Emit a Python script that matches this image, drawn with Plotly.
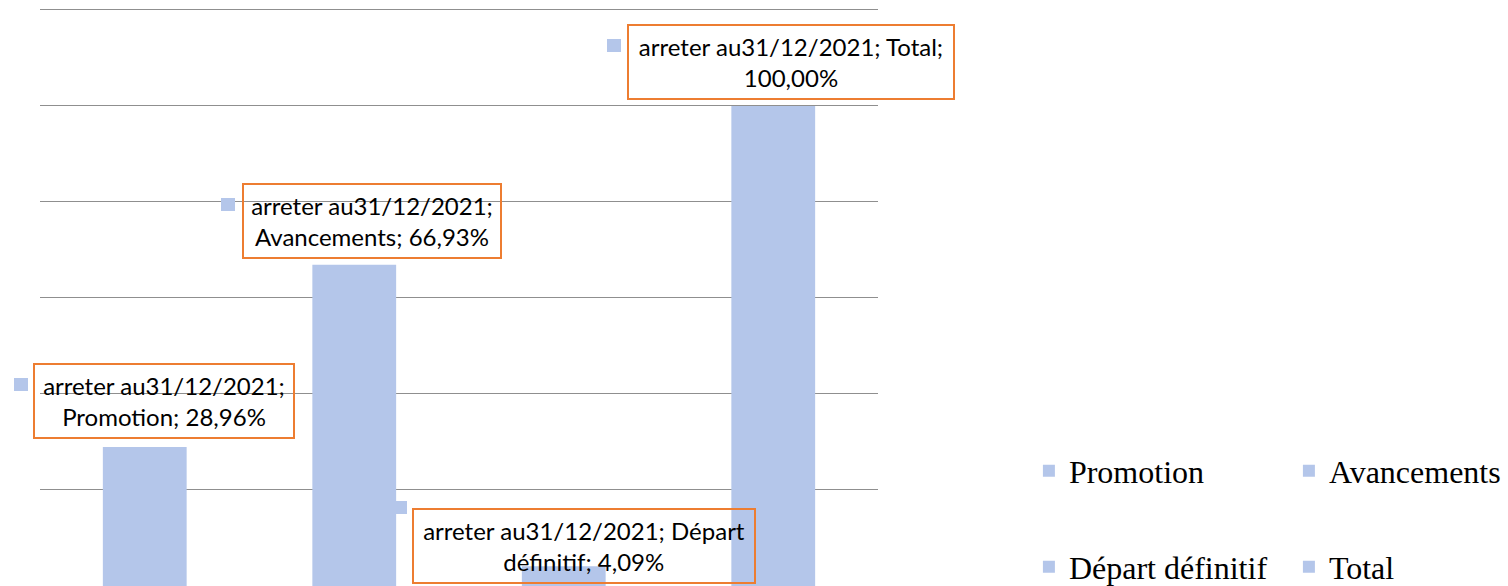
import plotly.graph_objects as go

categories = ["Promotion", "Avancements", "Départ définitif", "Total"]
values = [28.96, 66.93, 4.09, 100.00]
label_lines = [
    ["arreter au31/12/2021;", "Promotion; 28,96%"],
    ["arreter au31/12/2021;", "Avancements; 66,93%"],
    ["arreter au31/12/2021; Départ", "définitif; 4,09%"],
    ["arreter au31/12/2021; Total;", "100,00%"],
]
grid_vals = [20, 40, 60, 80, 100, 120]

BAR_COLOR = "#b4c6ea"
ORANGE = "#ED7D31"
LABEL_FONT = "Lato"
LEGEND_FONT = "Liberation Serif"

# layout-only styling for the labels (offsets in px from bar top)
label_style = [
    dict(xshift=19, yshift=46, width=250, key_x=-124, key_y=62),
    dict(xshift=18, yshift=44, width=248, key_x=-126, key_y=60),
    dict(xshift=20, yshift=20, width=332, key_x=-164, key_y=59),
    dict(xshift=18, yshift=44, width=316, key_x=-159, key_y=60),
]

fig = go.Figure()
for i, (cat, val) in enumerate(zip(categories, values)):
    fig.add_trace(go.Bar(
        x=[i], y=[val], name=cat, width=0.4,
        marker=dict(color=BAR_COLOR, line=dict(width=0)),
        legend="legend" if i < 2 else "legend2",
        showlegend=True,
    ))

annotations = []
for i, (val, lines) in enumerate(zip(values, label_lines)):
    st = label_style[i]
    annotations.append(dict(
        x=i, y=val, xref="x", yref="y",
        text="<br>".join(lines), showarrow=False,
        xshift=st["xshift"], yshift=st["yshift"],
        width=st["width"], height=64,
        align="center", valign="middle",
        bordercolor=ORANGE, borderwidth=2, borderpad=4,
        bgcolor="rgba(0,0,0,0)",
        font=dict(family=LABEL_FONT, size=24, color="#000000"),
    ))
    annotations.append(dict(
        x=i, y=val, xref="x", yref="y",
        text=" ", showarrow=False,
        xshift=st["key_x"], yshift=st["key_y"],
        width=14, height=13, borderpad=0, borderwidth=0,
        bgcolor=BAR_COLOR,
        font=dict(size=1),
    ))

legend_common = dict(
    orientation="h", xref="container", yref="container",
    xanchor="left", yanchor="middle",
    entrywidth=215, entrywidthmode="pixels",
    font=dict(family=LEGEND_FONT, size=32, color="#000000"),
    bgcolor="rgba(0,0,0,0)",
)

fig.update_layout(
    width=1508, height=586,
    margin=dict(l=40, r=630, t=8, b=0, autoexpand=False),
    paper_bgcolor="white", plot_bgcolor="white",
    showlegend=True,
    annotations=annotations,
    xaxis=dict(range=[-0.5, 3.5], showticklabels=False, showgrid=False,
               zeroline=False, showline=False, ticks=""),
    yaxis=dict(range=[0, 120.4], tickvals=grid_vals, showticklabels=False,
               showgrid=True, gridcolor="#8f8f8f", gridwidth=1,
               zeroline=False, showline=False, ticks=""),
    legend=dict(x=0.6823, y=1 - 471 / 586, **legend_common),
    legend2=dict(x=0.6823, y=1 - 567 / 586, **legend_common),
)

fig.write_html(
    "out.html",
    config={"displayModeBar": False},
    post_script="document.body.style.margin='0px';document.body.style.overflow='hidden';",
)
